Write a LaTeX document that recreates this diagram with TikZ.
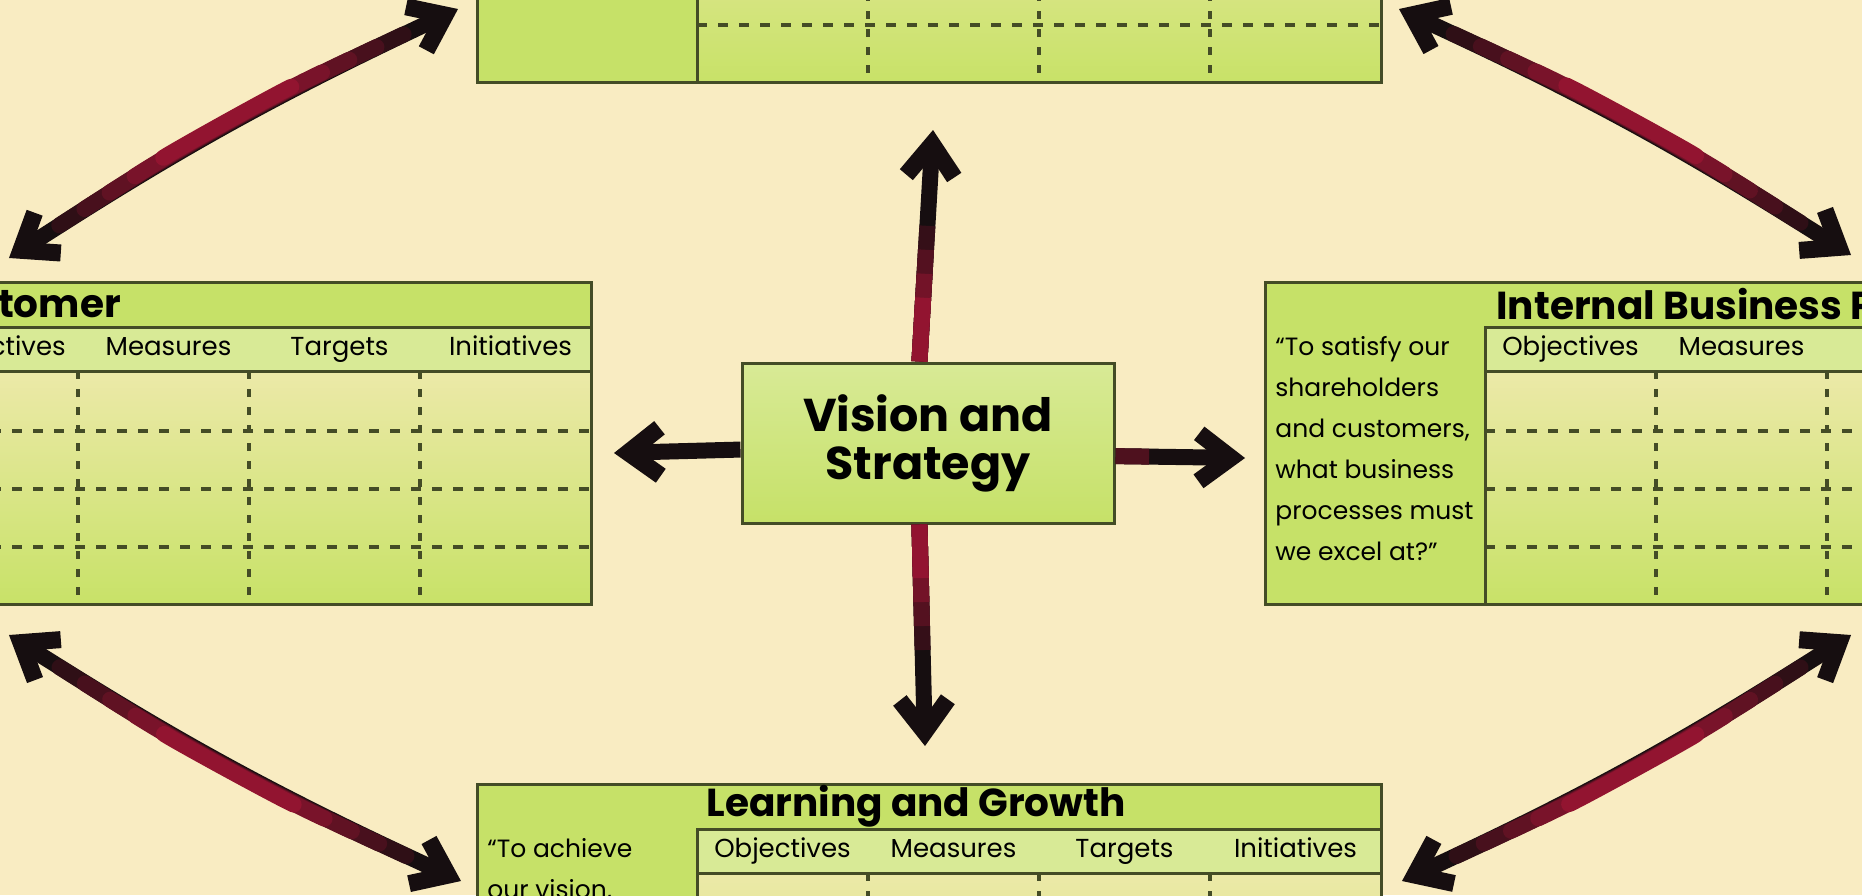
\documentclass[tikz,border=0pt]{standalone}
\usepackage{fontspec}
\setmainfont{Poppins}
\usetikzlibrary{arrows.meta,bending}
\definecolor{paper}{RGB}{249,236,194}
\definecolor{leaf}{RGB}{198,225,104}
\definecolor{pale}{RGB}{216,234,150}
\definecolor{bodytop}{RGB}{236,233,168}
\definecolor{bodybot}{RGB}{200,226,104}
\definecolor{edge}{RGB}{68,76,38}
\definecolor{ink}{RGB}{22,14,16}
\definecolor{wine}{RGB}{146,20,48}
\begin{document}
\begin{tikzpicture}[x=0.5pt,y=-0.5pt,
  frame/.style={draw=edge,line width=1.5pt},
  hgrid/.style={draw=edge,line width=1.6pt,dash pattern=on 5pt off 5.5pt},
  vgrid/.style={draw=edge,line width=1.6pt,dash pattern=on 4pt off 5pt},
  ttl/.style={anchor=west,inner sep=0pt,font=\fontsize{19.5}{22}\selectfont\bfseries},
  hd/.style={anchor=base,inner sep=0pt,font=\fontsize{13}{15}\selectfont},
  quote/.style={anchor=north west,inner sep=0pt,align=left,font=\fontsize{12.5}{20.5}\selectfont},
  shaft/.style={line width=8pt,line cap=round},
  barb/.tip={Straight Barb[length=16pt,width=24pt,line width=8.5pt]},
  duo/.style={shaft,draw=ink,barb-barb},
  uno/.style={shaft,line cap=butt,draw=ink,-barb}]
\useasboundingbox (0,0) rectangle (1862,895);
\fill[paper] (0,0) rectangle (1862,895);
\clip (0,0) rectangle (1862,895);
%
% the four scorecard tables
\foreach \bx/\by in {477/-240,-313/282,1265/282,477/784}{
\begin{scope}[shift={(\bx,\by)}]
\fill[leaf] (0,0) rectangle (904,322);
\fill[pale] (220,45) rectangle (904,89);
\shade[top color=bodytop,bottom color=bodybot] (220,89) rectangle (904,322);
\foreach \y in {149,207,265}{\draw[hgrid] (220,\y)--(904,\y);}
\foreach \x in {391,562,733}{\draw[vgrid] (\x,89)--(\x,322);}
\draw[frame] (220,89)--(904,89);
\draw[frame] (220,45) rectangle (904,322);
\draw[frame] (0,0) rectangle (904,322);
\end{scope}
}
%
\node[ttl] (cust) at (-80,304) {Customer};
\node[ttl] (ibp) at (1496,304) {Internal Business Process};
\node[ttl] (lg) at (706,806) {Learning and Growth};
\foreach \lab [count=\i] in {Objectives,Measures,Targets,Initiatives}{
  \node[hd] (custh\i) at (-88+171*\i-85.5,355) {\lab};
  \node[hd] (lgh\i) at (697+171*\i-85.5,857) {\lab};
}
\foreach \lab [count=\i] in {Objectives,Measures}{
  \node[hd] (ibph\i) at (1485+171*\i-85.5,355) {\lab};
}
\node[quote] (ibpq) at (1275,336) {“To satisfy our\\shareholders\\and customers,\\what business\\processes must\\we excel at?”};
\node[quote] (lgq) at (487,838) {“To achieve\\our vision,};
%
% centre
\node[draw=edge,line width=1.5pt,top color=pale,bottom color=leaf,
  minimum width=186pt,minimum height=80pt,align=center,
  font=\fontsize{23}{24}\selectfont\bfseries] (vision) at (928,443) {Vision and\\Strategy};
%
% arrow ends
\coordinate (finL) at (458,9);
\coordinate (custT) at (9,258);
\coordinate (finR) at (1399,9);
\coordinate (ibpT) at (1851,255);
\coordinate (custB) at (9,635);
\coordinate (lgL) at (461,881);
\coordinate (lgR) at (1402,881);
\coordinate (ibpB) at (1851,635);
\coordinate (upTip) at (933,130);
\coordinate (downTip) at (925,746);
\coordinate (leftTip) at (614,453);
\coordinate (rightTip) at (1245,458);
%===========================
\foreach \a/\b/\ang in {custT/finL/4,finR/ibpT/4,custB/lgL/-4,lgR/ibpB/-4}{
  \draw[duo] (\a) to[bend left=\ang] (\b);
  \foreach \s/\c in {30/20,45/40,60/60,75/80,92/100}
    \draw[shaft,draw=wine!\c!ink,shorten <=\s pt,shorten >=\s pt] (\a) to[bend left=\ang] (\b);
}
%
\foreach \a/\b in {vision.96/upTip,vision.264/downTip}{
  \draw[uno] (\a) -- (\b);
  \foreach \s/\c in {48/25,60/50,72/75,84/100}
    \draw[shaft,line cap=butt,draw=wine!\c!ink,shorten >=\s pt] (\a) -- (\b);
}
\draw[uno] (vision.182) -- (leftTip);
\draw[uno] (vision.-4) -- (rightTip);
\draw[shaft,line cap=butt,draw=wine!45!ink,shorten >=48pt] (vision.-4) -- (rightTip);
\end{tikzpicture}
\end{document}
